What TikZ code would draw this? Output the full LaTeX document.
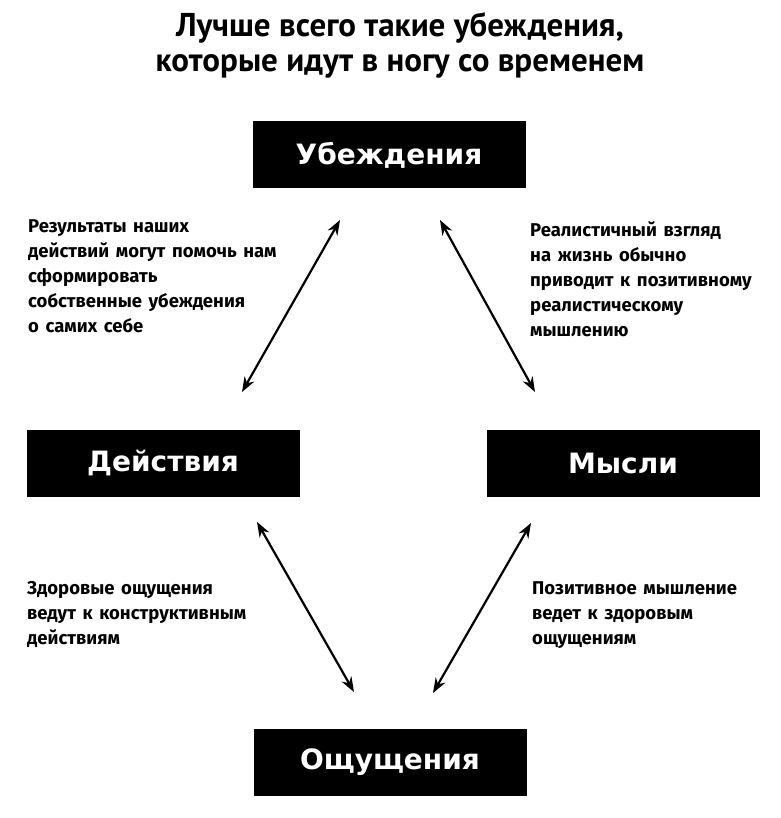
\documentclass[tikz,border=0pt]{standalone}
\usepackage{fontspec}
\setmainfont{Fira Sans}
\newfontfamily\notefont[WordSpace=1.5]{Fira Sans}
\newfontfamily\titlefont{PT Sans}
\newfontfamily\boxfont{DejaVu Sans}
\usetikzlibrary{arrows.meta}
\begin{document}
\begin{tikzpicture}[x=1pt,y=-1pt,
  box/.style={fill=black, minimum width=273pt, minimum height=67pt, inner sep=0pt,
    text=white, font=\boxfont\bfseries\fontsize{28}{30}\selectfont},
  note/.style={anchor=north west, align=left, inner sep=0pt,
    font=\notefont\bfseries\fontsize{18.5}{25}\selectfont},
  link/.style={line width=2.2pt,
    {Stealth[length=15pt,width=11pt]}-{Stealth[length=15pt,width=11pt]}}]
\useasboundingbox (0,0) rectangle (780,818);
\fill[white] (0,0) rectangle (780,818);
% title
\node[align=center, inner sep=0pt, font=\titlefont\bfseries\fontsize{33}{35}\selectfont]
  (title) at (400,45) {Лучше всего такие убеждения,\\которые идут в ногу со временем};
% boxes
\node[box] (ub) at (389,155) {Убеждения};
\node[box] (de) at (163,463) {Действия};
\node[box] (my) at (623,463) {Мысли};
\node[box] (os) at (390,762) {Ощущения};
% notes
\node[note] (n1) at (28,219) {Результаты наших\\действий могут помочь нам\\сформировать\\собственные убеждения\\о самих себе};
\node[note] (n2) at (530,221) {Реалистичный взгляд\\на жизнь обычно\\приводит к позитивному\\реалистическому\\мышлению};
\node[note] (n3) at (27,581) {Здоровые ощущения\\ведут к конструктивным\\действиям};
\node[note] (n4) at (532,581) {Позитивное мышление\\ведет к здоровым\\ощущениям};
% arrow ends
\coordinate (a1) at (340,220); \coordinate (a2) at (242,392);
\coordinate (b1) at (440,220); \coordinate (b2) at (535,392);
\coordinate (c1) at (257,522); \coordinate (c2) at (354,692);
\coordinate (d1) at (531,523); \coordinate (d2) at (433,693);
\draw[link] (a1) -- (a2);
\draw[link] (b1) -- (b2);
\draw[link] (c1) -- (c2);
\draw[link] (d1) -- (d2);
\end{tikzpicture}
\end{document}
